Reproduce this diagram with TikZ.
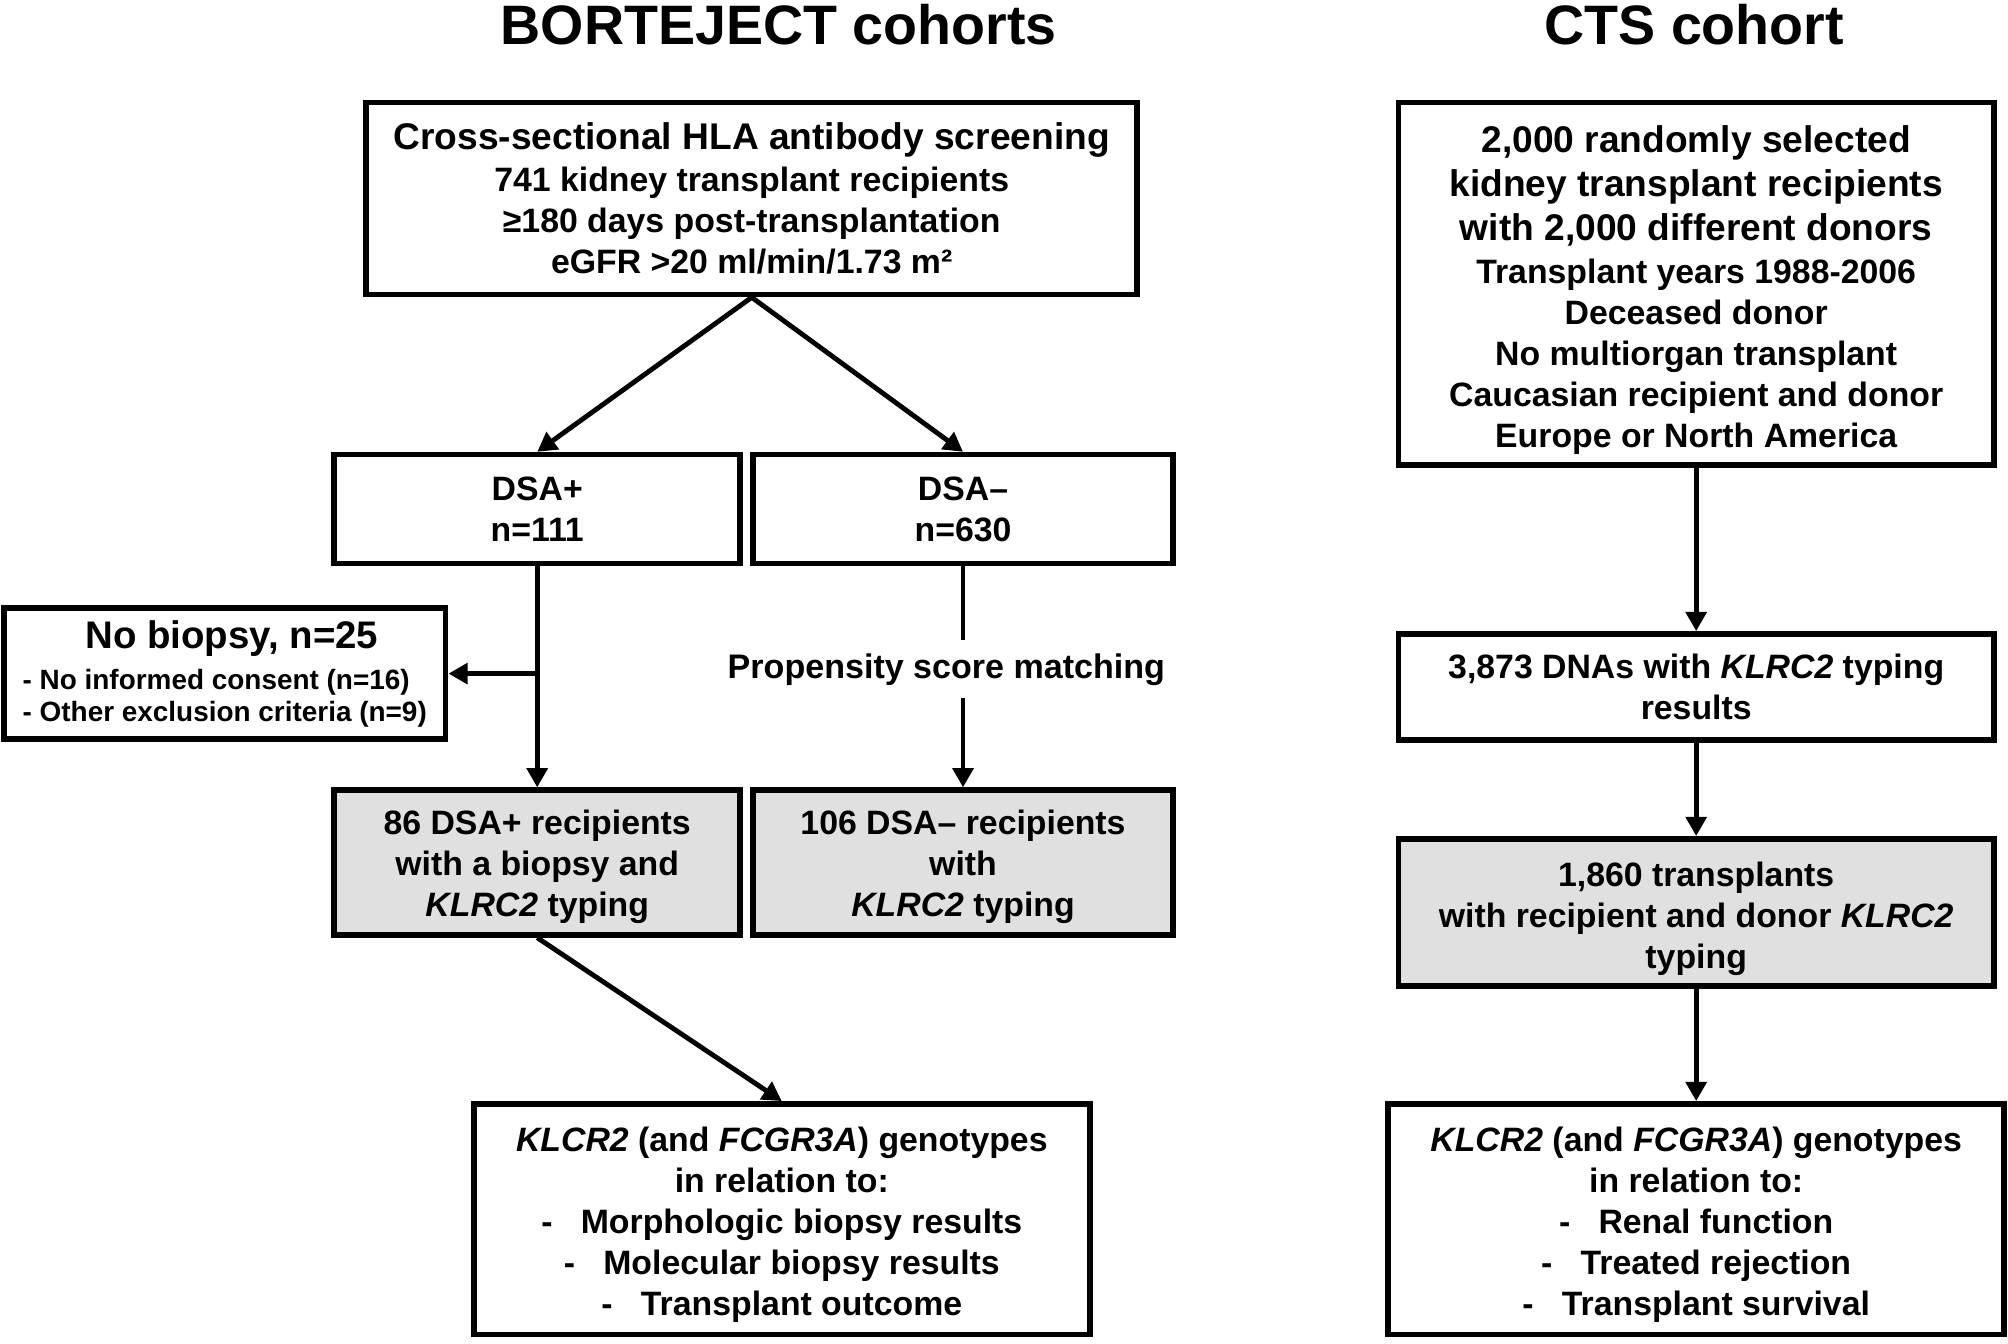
\documentclass[tikz,border=0pt]{standalone}
\usepackage{fontspec}
\setmainfont{Liberation Sans}
\usetikzlibrary{arrows.meta,calc}
\definecolor{boxgray}{RGB}{224,224,224}
\newcommand{\fs}[2]{\fontsize{#1}{#2}\selectfont}
\newcommand{\ditem}{-\hspace{11pt}}
\newcommand{\tallstrut}[1]{\rule{0pt}{#1}}
\begin{document}
\begin{tikzpicture}[x=0.5pt,y=-0.5pt,
  box/.style={draw=black,line width=2.2pt,inner sep=0pt,outer sep=1.1pt,align=center,font=\bfseries\fs{13.2}{16}},
  graybox/.style={box,fill=boxgray},
  arr/.style={line width=1.9pt,-{Triangle[length=7.5pt,width=8pt]}},
  ln/.style={line width=1.9pt},
  title/.style={font=\bfseries\fs{21.7}{26},inner sep=0pt,anchor=base},
  plain/.style={font=\bfseries\fs{13.3}{16},inner sep=0pt}]
\useasboundingbox (0,0) rectangle (1568,1049);

% titles
\node[title] (t1) at (608,35) {BORTEJECT cohorts};
\node[title] (t2) at (1323,35) {CTS cohort};

% left column
\node[box,minimum width=301pt,minimum height=75pt] (A) at (587,155)
  {{\fs{14.5}{16}Cross-sectional HLA antibody screening}\\[0.4pt]
   741 kidney transplant recipients\\
   ≥180 days post-transplantation\\
   eGFR >20 ml/min/1.73 m²};

\node[box,minimum width=158.5pt,minimum height=42.5pt] (dsap) at (419.5,397.5) {DSA+\\n=111};
\node[box,minimum width=164pt,minimum height=42.5pt] (dsam) at (752,397.5) {DSA–\\n=630};

\node[box,align=left,minimum width=172.5pt,minimum height=51pt,font=\bfseries\fs{10.9}{12.5}] (nob) at (175.5,526)
  {\hspace*{24.5pt}{\fs{15}{12.5}No biopsy, n=25}\\[3.5pt]
   - No informed consent (n=16)\\
   - Other exclusion criteria (n=9)};

\node[plain] (prop) at (739,523) {Propensity score matching};
\coordinate (propTop) at (739,500);
\coordinate (propBot) at (739,545);

\node[graybox,minimum width=158.5pt,minimum height=56.5pt] (gl) at (419.5,673.5)
  {\tallstrut{13.3pt}86 DSA+ recipients\\with a biopsy and\\\textit{KLRC2} typing};
\node[graybox,minimum width=164pt,minimum height=56.5pt] (gr) at (752,673.5)
  {\tallstrut{13.3pt}106 DSA– recipients\\with\\\textit{KLRC2} typing};

\node[box,minimum width=240.5pt,minimum height=90pt] (bl) at (610.5,952)
  {\tallstrut{13.8pt}\textit{KLCR2} (and \textit{FCGR3A}) genotypes\\
   in relation to:\\
   \ditem Morphologic biopsy results\\
   \ditem Molecular biopsy results\\
   \ditem Transplant outcome};

% right column
\node[box,minimum width=232.5pt,minimum height=141.5pt] (cts) at (1324.5,221.5)
  {\tallstrut{15.45pt}{\fs{14.5}{16}2,000 randomly selected}\\[1.2pt]
   {\fs{14.5}{16}kidney transplant recipients}\\[1.2pt]
   {\fs{14.5}{16}with 2,000 different donors}\\[1pt]
   Transplant years 1988-2006\\
   Deceased donor\\
   No multiorgan transplant\\
   Caucasian recipient and donor\\
   Europe or North America};

\node[box,minimum width=232.5pt,minimum height=41.5pt] (dna) at (1324.5,536.5)
  {3,873 DNAs with \textit{KLRC2} typing\\results};
\node[graybox,minimum width=232.5pt,minimum height=57.5pt] (tx) at (1324.5,712.5)
  {\tallstrut{14.65pt}1,860 transplants\\with recipient and donor \textit{KLRC2}\\typing};
\node[box,minimum width=240.5pt,minimum height=90pt] (br) at (1324.5,952)
  {\tallstrut{13.8pt}\textit{KLCR2} (and \textit{FCGR3A}) genotypes\\
   in relation to:\\
   \ditem Renal function\\
   \ditem Treated rejection\\
   \ditem Transplant survival};

% connectors left
\draw[arr] (A.south) -- (dsap.north);
\draw[arr] (A.south) -- (dsam.north);
\draw[arr] (dsap.south) -- (gl.north);
\draw[arr] (dsap.south |- nob.east) -- (nob.east);
\draw[ln] (dsam.south) -- (dsam.south |- propTop);
\draw[arr] (dsam.south |- propBot) -- (gr.north);
\draw[arr] (gl.south) -- (bl.north);

% connectors right
\draw[arr] (cts.south) -- (dna.north);
\draw[arr] (dna.south) -- (tx.north);
\draw[arr] (tx.south) -- (br.north);
\end{tikzpicture}
\end{document}
